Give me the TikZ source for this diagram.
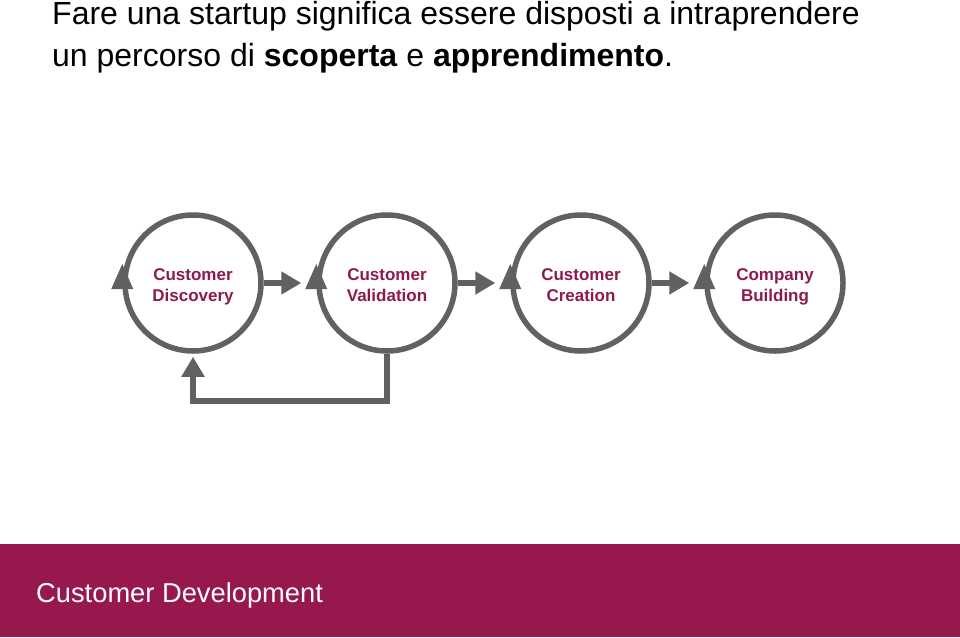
\documentclass[tikz,border=0pt]{standalone}
\usepackage{fontspec}
\setmainfont{Liberation Sans}
\usetikzlibrary{arrows.meta,calc}
\definecolor{cdgray}{HTML}{616161}
\definecolor{cdred}{HTML}{97174F}
\definecolor{cdtext}{HTML}{8E1A4C}
\begin{document}
\begin{tikzpicture}[x=1pt,y=-1pt,
  phase/.style={circle,draw=cdgray,line width=5.5pt,minimum size=136pt,inner sep=0pt},
  phaselabel/.style={align=center,text=cdtext,inner sep=0pt,font=\fontsize{17}{21}\selectfont\bfseries},
  flow/.style={draw=cdgray,line width=5.5pt,-{Triangle[length=20pt,width=22pt]}},
  head/.style={fill=cdgray,draw=none}]
\useasboundingbox (0,0) rectangle (960,637);
\fill[cdred] (0,544) rectangle (960,637);
\node[anchor=base west,inner sep=0pt,text=white,font=\fontsize{27.3}{34}\selectfont] (foot) at (36,602) {Customer Development};
\node[anchor=base west,inner sep=0pt,font=\fontsize{32}{38}\selectfont] (t1) at (52,24) {Fare una startup significa essere disposti a intraprendere};
\node[anchor=base west,inner sep=0pt,font=\fontsize{32}{38}\selectfont] (t2) at (52,66) {un percorso di \textbf{scoperta} e \textbf{apprendimento}.};
\node[phase] (c1) at (193,283) {};
\node[phase] (c2) at (387,283) {};
\node[phase] (c3) at (581,283) {};
\node[phase] (c4) at (775,283) {};
\node[phaselabel,anchor=base] (l1) at (193,301) {Customer\\Discovery};
\node[phaselabel,anchor=base] (l2) at (387,301) {Customer\\Validation};
\node[phaselabel,anchor=base] (l3) at (581,301) {Customer\\Creation};
\node[phaselabel,anchor=base] (l4) at (775,301) {Company\\Building};
\foreach \a/\b in {c1/c2,c2/c3,c3/c4}{
  \draw[flow] (\a.east) -- ($(\b.west)+(-15,0)$);
  \fill[head] ($(\b.west)+(0,-19)$) -- ($(\b.west)+(11,6)$) -- ($(\b.west)+(-11,6)$) -- cycle;
}
\fill[head] ($(c1.west)+(0,-19)$) -- ($(c1.west)+(11,6)$) -- ($(c1.west)+(-11,6)$) -- cycle;
\coordinate (fb1) at (387,401);
\coordinate (fb2) at (193,401);
\draw[flow] (c2.south) -- (fb1) -- (fb2) -- ($(c1.south)+(0,3)$);
\end{tikzpicture}
\end{document}
